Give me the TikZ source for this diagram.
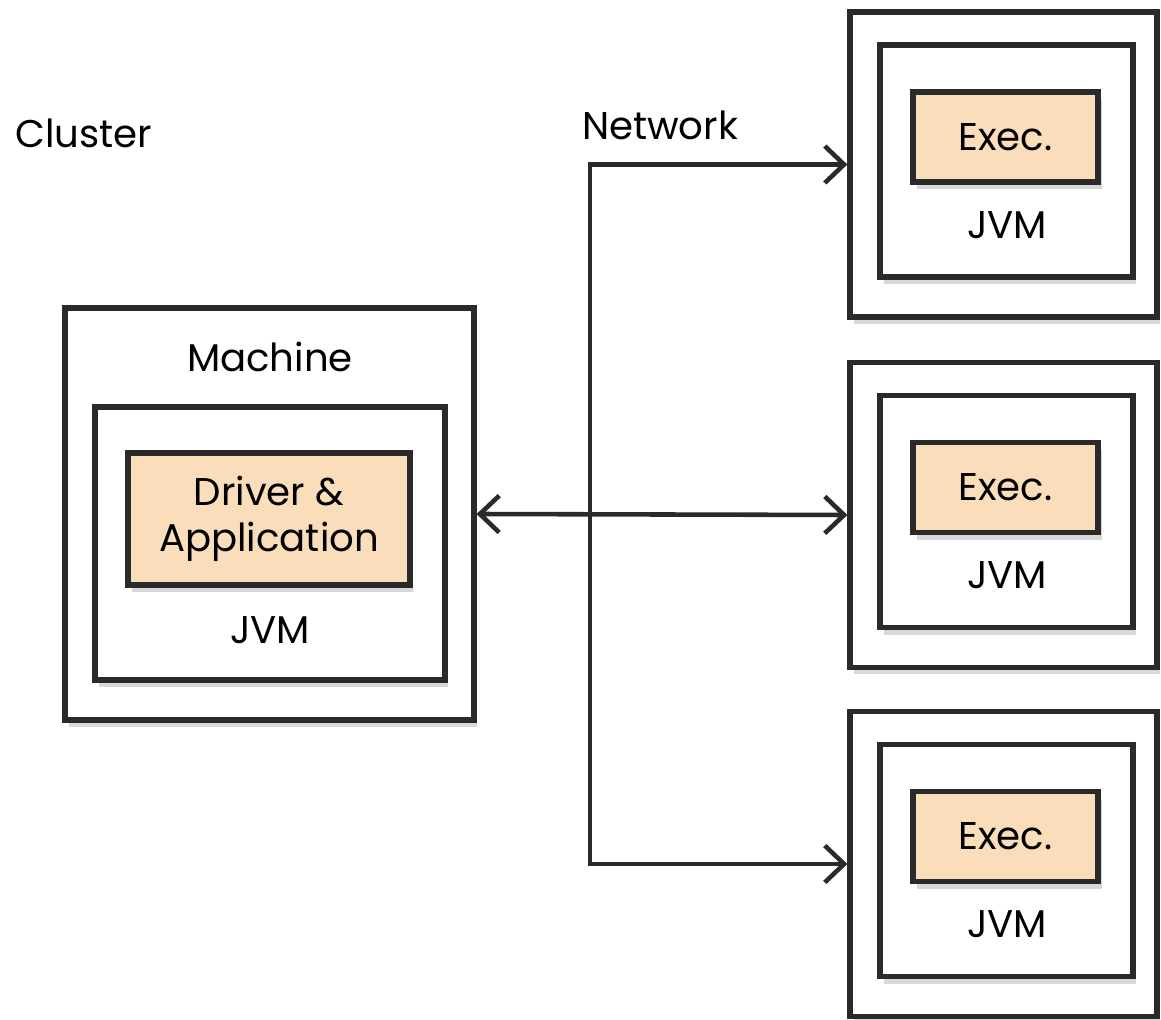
\documentclass[tikz,border=0pt]{standalone}
\usepackage{fontspec}
\setmainfont{Poppins}
\usetikzlibrary{arrows.meta,positioning,shadows}
\definecolor{inkgray}{RGB}{42,42,42}
\definecolor{peach}{RGB}{250,221,186}

\begin{document}
\begin{tikzpicture}[x=0.02cm, y=-0.02cm, >={Straight Barb[length=11pt,width=21pt]},
	every node/.style={font=\fontsize{22}{26}\selectfont},
	hostbox/.style={draw=inkgray, line width=3pt, fill=white, rectangle, drop shadow={shadow xshift=2pt, shadow yshift=-4pt, opacity=0.3}},
	procbox/.style={hostbox, fill=peach, align=center},
	wire/.style={draw=inkgray, line width=2.6pt}]
	\useasboundingbox (0,0) rectangle (1161,1020);
	
	% Nodes
	\node (cluster) at (84,133) {Cluster};
	\node (network) at (660,125) {Network};
	
	\node[hostbox, minimum width=8.18cm, minimum height=8.24cm] (machine) at (269.5,514) {};
	\node[hostbox, minimum width=7.0cm, minimum height=5.46cm] (drvjvm) at (270,543.5) {};
	\node[procbox, minimum width=5.64cm, minimum height=2.64cm] (driver) at (269,519) {Driver \&\\Application};
	\node (machinelbl) at (270,357) {Machine};
	\node (drvjvmlbl) at (270,630) {JVM};
	
	\foreach \i/\yc in {1/164.5, 2/515, 3/864} {
		\node[hostbox, minimum width=6.14cm, minimum height=6.1cm] (worker\i) at (1003.5,\yc) {};
		\node[hostbox, minimum width=5.06cm, minimum height=4.64cm] (exjvm\i) at (1006.5,\yc-3.5) {};
		\node[procbox, minimum width=3.7cm, minimum height=1.8cm] (exec\i) at (1005.5,\yc-27.5) {Exec.};
		\node (exjvmlbl\i) at (1007,\yc+60.5) {JVM};
	}
	
	% Arrows
	\coordinate (bus) at (590,0);
	\draw[wire, <->] (worker1.west) -- (bus |- worker1.west) -- (bus |- worker3.west) -- (worker3.west);
	\draw[wire, <->] (machine.east) -- (worker2.west);
\end{tikzpicture}
\end{document}
